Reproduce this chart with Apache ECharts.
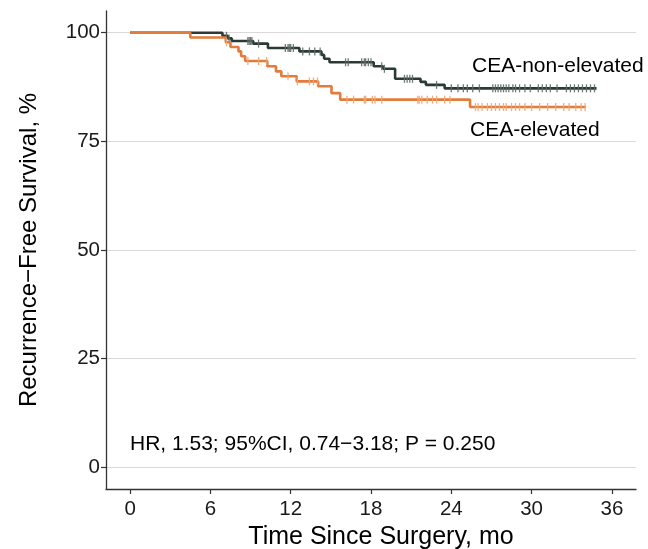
<!DOCTYPE html>
<html>
<head>
<meta charset="utf-8">
<script src="https://cdn.jsdelivr.net/npm/echarts@6/dist/echarts.min.js"></script>
<style>
html,body{margin:0;padding:0;background:#fff;}
#chart{width:648px;height:549px;}
</style>
</head>
<body>
<div id="chart"></div>
<script>
// ---- Data ----
const xTicks = [0, 6, 12, 18, 24, 30, 36];
const yTicks = [0, 25, 50, 75, 100];

const nonElevTimes = [0, 6.9, 7.3, 7.6, 9.2, 10.3, 12.65, 14.3, 14.5, 14.9, 18.2, 18.9, 19.8, 21.7, 22.1, 23.5, 34.85];
const nonElevSurv  = [100, 99.3, 98.7, 98.1, 97.5, 96.5, 95.7, 94.9, 94.0, 93.2, 92.3, 91.7, 89.4, 88.7, 88.0, 87.2, 87.2];
const nonElevCensor = [7.2, 7.4, 8.8, 8.9, 9.0, 9.1, 9.6, 11.6, 11.8, 11.9, 12.0, 12.2, 12.9, 13.4, 13.8, 14.2,
  16.1, 16.3, 17.3, 17.5, 17.6, 17.8, 18.0, 18.8, 19.0, 20.5, 20.7, 20.9, 21.1, 22.9, 24.0, 24.5, 24.9, 25.2, 25.6,
  26.1, 27.1, 27.3, 27.5, 27.7, 27.9, 28.1, 28.3, 28.6, 28.8, 29.1, 29.5, 29.9, 30.5, 30.8, 31.1, 31.4, 31.9,
  32.6, 32.9, 33.2, 33.5, 33.8, 34.1, 34.4, 34.7];

const elevTimes = [0, 4.5, 7.15, 7.5, 8.1, 8.3, 8.6, 10.25, 10.9, 11.3, 12.45, 14.05, 15.05, 15.7, 25.4, 34.05];
const elevSurv  = [100, 98.9, 97.8, 96.7, 95.7, 94.6, 93.5, 92.3, 91.1, 90.0, 88.8, 87.7, 86.1, 84.6, 82.9, 82.9];
const elevCensor = [7.2, 8.8, 9.6, 10.2, 11.8, 12.5, 13.4, 13.7, 14.0, 16.2, 16.7, 17.5, 17.6, 18.1, 18.3, 18.8,
  21.5, 21.6, 21.8, 22.2, 22.6, 22.9, 23.5, 23.9, 25.8, 26.0, 26.3, 26.7, 27.0, 27.3, 27.6, 27.9, 28.1, 28.5,
  28.8, 29.1, 29.5, 30.0, 30.6, 31.2, 31.8, 32.4, 32.8, 33.3, 33.7, 34.0];

const labelNonElev = 'CEA-non-elevated';
const labelElev = 'CEA-elevated';
const statsText = 'HR, 1.53; 95%CI, 0.74\u22123.18; P = 0.250';

// ---- helpers ----
function pairs(ts, ss){ return ts.map((t,i)=>[t, ss[i]]); }
function survAt(ts, ss, t){
  let v = ss[0];
  for (let i=0;i<ts.length;i++){ if (ts[i] <= t) v = ss[i]; }
  return v;
}
function censorPts(cs, ts, ss){ return cs.map(t=>[t, survAt(ts, ss, t)]); }

const darkCol = '#2b3a36';
const orangeCol = '#e27c3a';
const font = 'Liberation Sans, Arial, sans-serif';

const chart = echarts.init(document.getElementById('chart'), null, {renderer:'canvas'});
chart.setOption({
  animation: false,
  backgroundColor: '#ffffff',
  grid: {left: 106, right: 12, top: 11, bottom: 60, outerBoundsMode: 'none', containLabel: false},
  xAxis: {
    type: 'value', min: -1.8, max: 37.8,
    name: 'Time Since Surgery, mo', nameLocation: 'middle', nameGap: 35,
    nameTextStyle: {fontSize: 25, color: '#000', fontFamily: font, padding: [0, 0, 0, 20]},
    axisLine: {show: true, onZero: false, lineStyle: {color: '#333', width: 1.3}},
    axisTick: {show: true, length: 5, customValues: xTicks, lineStyle: {color: '#333', width: 1.2}},
    axisLabel: {customValues: xTicks, fontSize: 20.5, color: '#1a1a1a', fontFamily: font, margin: 10},
    splitLine: {show: false}
  },
  yAxis: {
    type: 'value', min: -5, max: 105,
    name: 'Recurrence\u2212Free Survival, %', nameLocation: 'middle', nameGap: 65,
    nameTextStyle: {fontSize: 24, color: '#000', fontFamily: font},
    axisLine: {show: true, onZero: false, lineStyle: {color: '#333', width: 1.3}},
    axisTick: {show: true, length: 5, customValues: yTicks, lineStyle: {color: '#333', width: 1.2}},
    axisLabel: {customValues: yTicks, fontSize: 20.5, color: '#1a1a1a', fontFamily: font, margin: 6},
    splitLine: {show: false}
  },
  series: [
    {
      type: 'line', data: [], z: 0, silent: true,
      markLine: {
        silent: true, symbol: 'none', animation: false, label: {show: false}, z: 0,
        lineStyle: {color: '#d9d9d9', width: 1, type: 'solid'},
        data: yTicks.map(v => ({yAxis: v}))
      }
    },
    {
      name: labelNonElev, type: 'line', step: 'end', showSymbol: false, z: 2, clip: false,
      data: pairs(nonElevTimes, nonElevSurv),
      lineStyle: {color: darkCol, width: 2.6}
    },
    {
      name: labelNonElev + ' censored', type: 'scatter', z: 3,
      data: censorPts(nonElevCensor, nonElevTimes, nonElevSurv),
      symbol: 'rect', symbolSize: [1.3, 8],
      itemStyle: {color: '#5f6d69', opacity: 0.9}
    },
    {
      name: labelElev, type: 'line', step: 'end', showSymbol: false, z: 4, clip: false,
      data: pairs(elevTimes, elevSurv),
      lineStyle: {color: orangeCol, width: 2.6}
    },
    {
      name: labelElev + ' censored', type: 'scatter', z: 5,
      data: censorPts(elevCensor, elevTimes, elevSurv),
      symbol: 'rect', symbolSize: [1.3, 8],
      itemStyle: {color: '#f0a673', opacity: 0.9}
    }
  ],
  graphic: [
    {type: 'text', x: 472, y: 66, style: {text: labelNonElev, font: '21px ' + font, fill: '#000', verticalAlign: 'middle'}},
    {type: 'text', x: 470, y: 130, style: {text: labelElev, font: '21px ' + font, fill: '#000', verticalAlign: 'middle'}},
    {type: 'text', x: 130, y: 444, style: {text: statsText, font: '21px ' + font, fill: '#000', verticalAlign: 'middle'}}
  ]
});
</script>
</body>
</html>
